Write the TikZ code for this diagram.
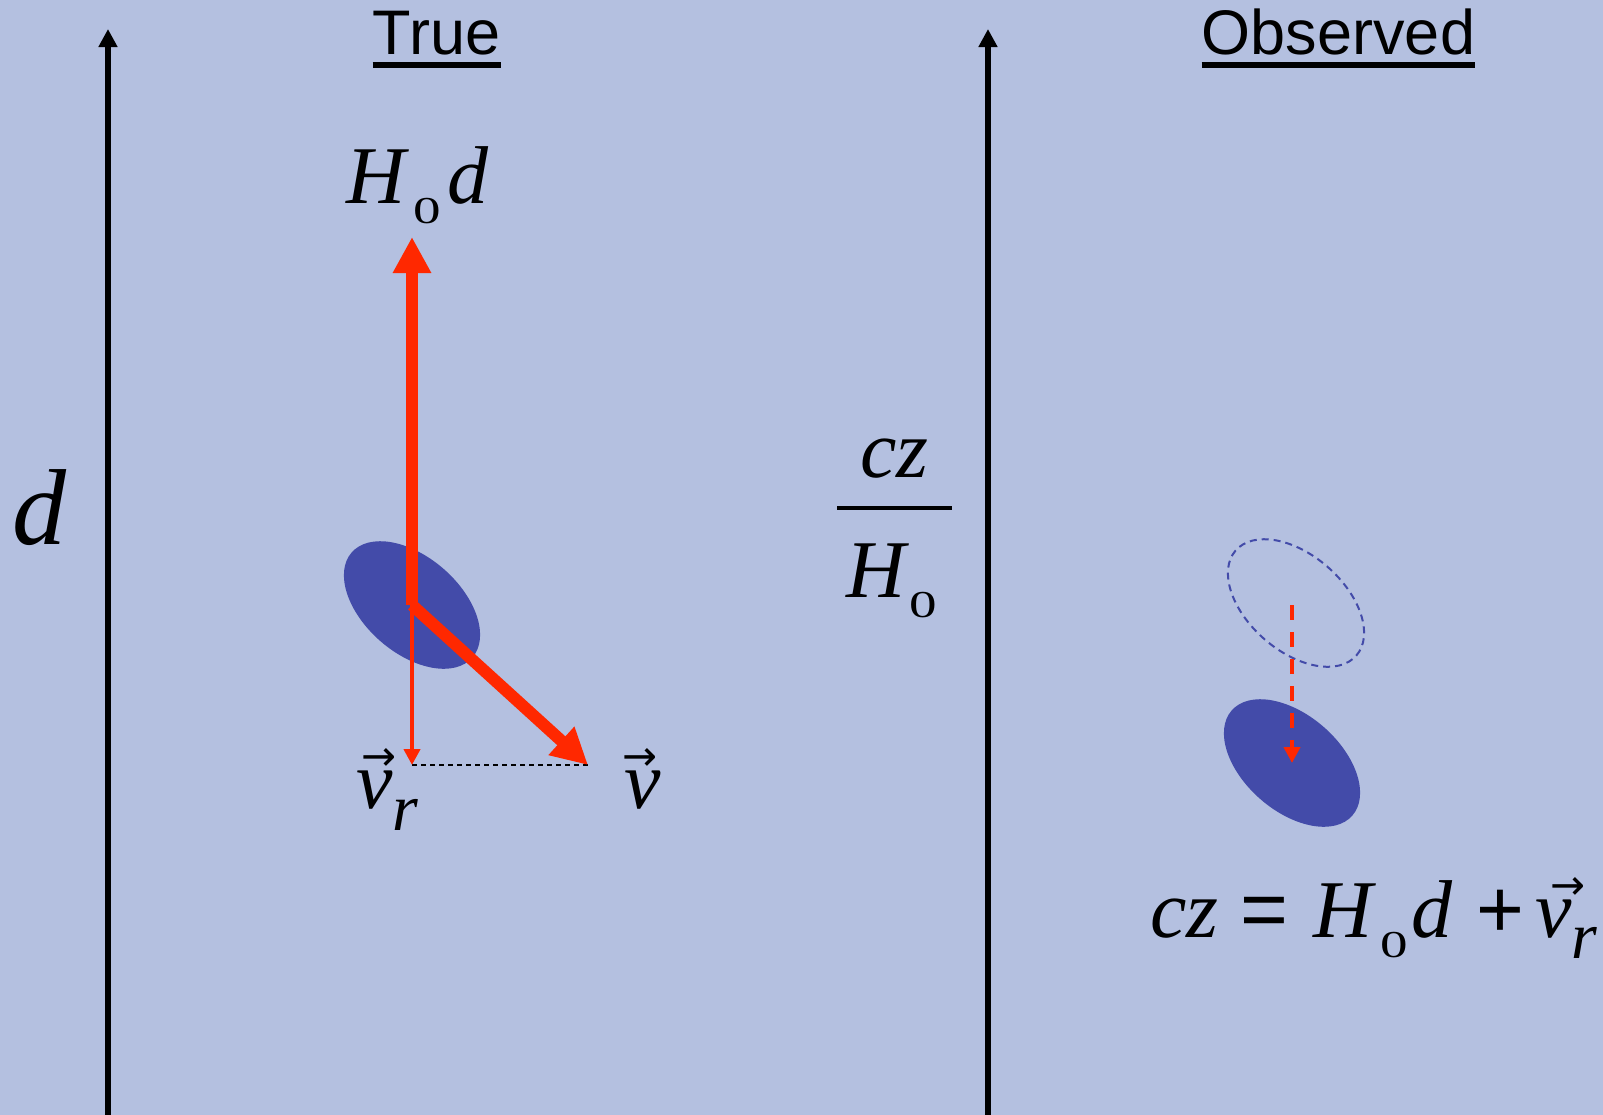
\documentclass[tikz,border=0pt]{standalone}
\usepackage{fontspec}
\usepackage{graphicx}
\usepackage{tikz}
\usetikzlibrary{arrows.meta,shapes.geometric}
\setmainfont{Liberation Serif}
\newfontfamily\arl{Liberation Sans}
\newfontfamily\djv{DejaVu Sans}
\definecolor{mBg}{HTML}{B4C0E0}
\definecolor{mGal}{HTML}{434BA9}
\definecolor{mRed}{HTML}{FF2800}
\newcommand\zsub{\raisebox{-10pt}{\fontsize{19}{19}\selectfont\scalebox{1.45}[1]{0}}}
\newcommand\rsub[1][11pt]{\raisebox{-#1}{\fontsize{33}{33}\selectfont\itshape r}}
\newcommand\varr{\resizebox{17.5pt}{11pt}{\djv →}}
\newcommand\vecv[1][1pt]{\makebox[0pt][l]{\hspace{#1}\raisebox{19pt}{\varr}}\textit{v}}
\tikzset{
  >=Stealth,
  gal/.style  ={ellipse,fill=mGal,inner sep=0pt,minimum width=80pt,minimum height=48pt},
  ghost/.style={ellipse,draw=mGal,line width=1pt,dash pattern=on 3.5pt off 2.5pt,inner sep=0pt,minimum width=80pt,minimum height=48pt},
  big/.style  ={-{Triangle[length=18pt,width=18pt]},line width=6pt,mRed},
  thin/.style ={-{Triangle[length=8pt,width=8pt]},line width=2.2pt,mRed},
  zarr/.style ={thin,dash pattern=on 7.5pt off 6pt},
  axis/.style ={-{Triangle[length=9pt,width=9pt]},line width=3pt},
}

\begin{document}
\begin{tikzpicture}[x=0.5pt,y=-0.5pt,
    lbl/.style={inner sep=0pt,font=\fontsize{41}{41}\selectfont},
    ttl/.style={inner sep=0pt,anchor=base,font=\arl\fontsize{31.5}{31.5}\selectfont},
    uline/.style={line width=3pt},
    proj/.style={line width=1pt,dash pattern=on 2.5pt off 2pt}]
  \fill[mBg] (0,0) rectangle (1603,1115);
  \useasboundingbox (0,0) rectangle (1603,1115);

  % axes
  \coordinate (lb) at (108,1115);
  \coordinate (lt) at (108,29);
  \coordinate (rb) at (988,1115);
  \coordinate (rt) at (988,29);
  \draw[axis] (lb) -- (lt);
  \draw[axis] (rb) -- (rt);

  % titles
  \node[ttl] (ttrue) at (436.5,54) {True};
  \node[ttl] (tobs) at (1338.5,54) {Observed};
  \draw[uline] ([yshift=-5.5pt]ttrue.base west) -- ([yshift=-5.5pt]ttrue.base east);
  \draw[uline] ([yshift=-5.5pt]tobs.base west) -- ([yshift=-5.5pt]tobs.base east);

  % true side
  \node[lbl,anchor=base west,font=\fontsize{54}{54}\selectfont] (dist) at (12,544) {\textit{d}};
  \node[gal,rotate=-41] (gal1) at (412,605) {};
  \coordinate (hd) at (412,237);
  \coordinate (vt) at (588,765);
  \coordinate (vr) at (412,765);
  \draw[proj] (vr) -- (vt);
  \draw[big] (gal1.center) -- (hd);
  \draw[big] (gal1.center) -- (vt);
  \draw[thin] (gal1.center) -- (vr);
  \node[lbl,anchor=base west] (hdl) at (346,203) {\textit{H}\hspace{2pt}\zsub\hspace{3.5pt}\textit{d}};
  \node[lbl,anchor=base west] (vrl) at (356,808) {\vecv[2.75pt]\rsub};
  \node[lbl,anchor=base west] (vl) at (624,808) {\vecv[-1pt]};

  % observed side
  \node[lbl,anchor=base] (cz) at (894.5,477) {\textit{cz}};
  \node[fill=black,inner sep=0pt,minimum width=57.5pt,minimum height=2.3pt] (bar) at (894.5,508) {};
  \node[lbl,anchor=base] (hz) at (892,597) {\textit{H}\zsub};
  \node[ghost,rotate=-41] (gal0) at (1296,603) {};
  \node[gal,rotate=-41] (gal2) at (1292,763) {};
  \coordinate (zs) at (1292,605);
  \draw[zarr] (zs) -- (gal2.center);
  \node[lbl,anchor=base west] (eq) at (1150,937)
    {\textit{cz}\hspace{11pt}{\arl =}\hspace{12.5pt}\textit{H}\hspace{2pt}\zsub\hspace{1.5pt}\textit{d}\hspace{12pt}{\arl +}\hspace{5.5pt}\vecv[7.75pt]\rsub[10.5pt]};
\end{tikzpicture}
\end{document}
